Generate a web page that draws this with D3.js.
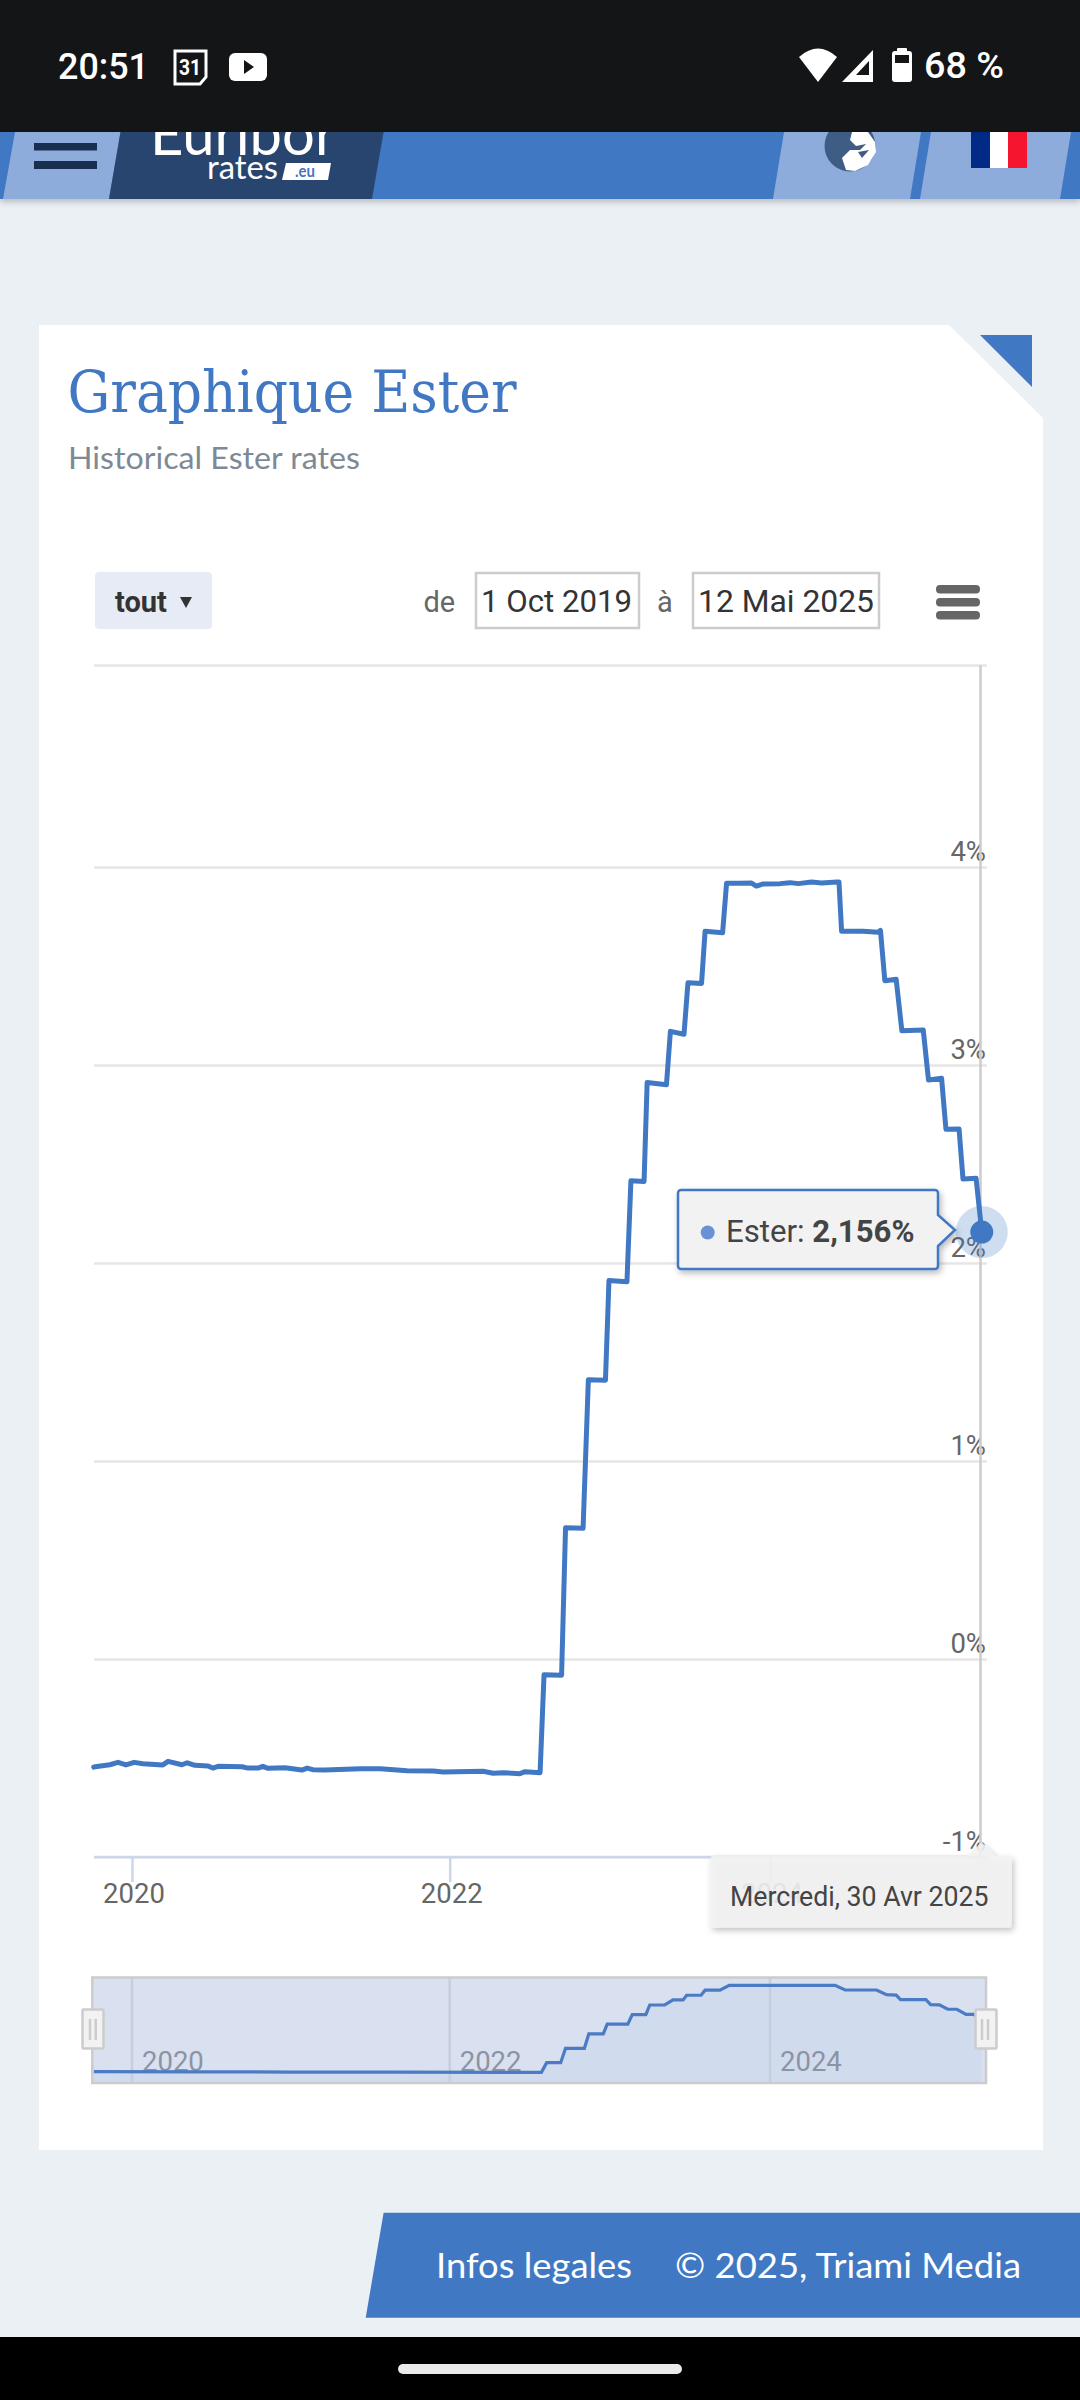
<!DOCTYPE html>
<html lang="fr">
<head>
<meta charset="utf-8">
<title>Graphique Ester</title>
<script src="https://cdn.jsdelivr.net/npm/d3@7"></script>
<style>
html,body{margin:0;padding:0;background:#ebf0f5;}
svg{display:block;}
text{font-family:Roboto,sans-serif;}
</style>
</head>
<body>
<svg id="c" width="1080" height="2400" viewBox="0 0 1080 2400"></svg>
<script>
const rateDates = ["2019-10-05","2019-10-08","2019-11-11","2019-11-30","2019-12-18","2020-01-06","2020-01-26","2020-03-12","2020-03-24","2020-04-25","2020-05-07","2020-05-25","2020-06-24","2020-07-05","2020-07-17","2020-09-10","2020-09-24","2020-10-17","2020-10-28","2020-11-09","2020-12-18","2021-01-26","2021-02-07","2021-02-20","2021-03-20","2021-06-09","2021-07-25","2021-09-25","2021-11-24","2021-12-17","2022-03-18","2022-04-10","2022-05-02","2022-06-10","2022-06-22","2022-07-26","2022-08-04","2022-09-13","2022-09-22","2022-11-01","2022-11-13","2022-12-22","2022-12-30","2023-02-09","2023-02-18","2023-03-20","2023-03-27","2023-05-10","2023-05-19","2023-06-19","2023-06-28","2023-07-29","2023-08-06","2023-09-15","2023-09-24","2023-10-24","2023-11-20","2023-12-01","2023-12-15","2024-01-24","2024-02-16","2024-03-06","2024-04-05","2024-04-28","2024-06-03","2024-06-07","2024-06-13","2024-08-01","2024-09-05","2024-09-10","2024-09-20","2024-10-16","2024-10-29","2024-12-17","2024-12-29","2025-01-28","2025-02-07","2025-03-09","2025-03-18","2025-04-17","2025-04-30"];
const rateValues = [-0.546,-0.544,-0.534,-0.522,-0.535,-0.522,-0.529,-0.535,-0.517,-0.534,-0.524,-0.537,-0.540,-0.551,-0.542,-0.544,-0.551,-0.551,-0.542,-0.552,-0.549,-0.561,-0.551,-0.559,-0.561,-0.554,-0.554,-0.564,-0.566,-0.571,-0.567,-0.577,-0.574,-0.579,-0.569,-0.574,-0.079,-0.082,0.663,0.660,1.410,1.408,1.912,1.905,2.415,2.412,2.912,2.900,3.170,3.155,3.415,3.412,3.675,3.668,3.918,3.918,3.919,3.904,3.914,3.916,3.921,3.916,3.924,3.919,3.924,3.924,3.675,3.676,3.670,3.680,3.426,3.433,3.173,3.177,2.924,2.933,2.675,2.677,2.424,2.428,2.156];

const navDates = ["2019-10-05","2020-06-01","2021-01-01","2021-09-01","2022-07-29","2022-08-10","2022-09-11","2022-09-22","2022-11-04","2022-11-14","2022-12-17","2022-12-26","2023-02-11","2023-02-21","2023-03-24","2023-04-02","2023-05-06","2023-05-25","2023-06-17","2023-06-25","2023-07-28","2023-08-06","2023-09-09","2023-09-30","2024-05-29","2024-06-21","2024-09-01","2024-09-24","2024-10-16","2024-10-26","2024-12-23","2025-01-03","2025-01-23","2025-02-11","2025-03-04","2025-03-25","2025-04-11","2025-04-30"];
const navValues = [-0.54,-0.55,-0.56,-0.565,-0.575,-0.077,-0.077,0.66,0.66,1.40,1.40,1.90,1.90,2.39,2.39,2.89,2.89,3.15,3.15,3.39,3.39,3.65,3.65,3.90,3.90,3.66,3.66,3.42,3.40,3.165,3.165,2.91,2.90,2.67,2.67,2.41,2.41,2.156];

const yTicks = [-1,0,1,2,3,4];
const xTickDates = ["2020-01-01","2022-01-01","2024-01-01"];
const xDomainDates = ["2019-10-01","2020-01-01","2022-01-01","2024-01-01","2025-05-12"];
const pageTitle = "Graphique Ester";
const pageSubtitle = "Historical Ester rates";
const tooltipDate = "Mercredi, 30 Avr 2025";
const tooltipName = "Ester: ";
const tooltipValue = "2,156%";
const fromDate = "1 Oct 2019";
const toDate = "12 Mai 2025";

const BLUE = "#4178c4";
const parse = d3.utcParse("%Y-%m-%d");
const svg = d3.select("#c");

/* scales */
const x = d3.scaleUtc().domain(xDomainDates.map(parse)).range([92,132,449.7,770,987]);
const y = d3.scaleLinear().domain([-1,4]).range([1857,867]);
const yNav = d3.scaleLinear().domain([-1,4]).range([2080.6,1983.4]);
const plotTop = 665.5;

const defs = svg.append("defs");
const sh = defs.append("filter").attr("id","shadow").attr("x","-10%").attr("y","-20%").attr("width","125%").attr("height","150%");
sh.append("feDropShadow").attr("dx",2).attr("dy",3).attr("stdDeviation",3).attr("flood-color","#000").attr("flood-opacity",0.28);
const sh2 = defs.append("filter").attr("id","hshadow").attr("x","-2%").attr("y","-20%").attr("width","104%").attr("height","150%");
sh2.append("feDropShadow").attr("dx",0).attr("dy",3).attr("stdDeviation",3).attr("flood-color","#000").attr("flood-opacity",0.22);
defs.append("clipPath").attr("id","hdr").append("rect").attr("x",0).attr("y",132).attr("width",1080).attr("height",67);

const poly = (g,pts,fill)=>g.append("polygon").attr("points",pts.map(p=>p.join(",")).join(" ")).attr("fill",fill);
const txt = (g,xx,yy,s,size,fill,extra={})=>{const t=g.append("text").attr("x",xx).attr("y",yy).attr("font-size",size).attr("fill",fill).text(s);Object.entries(extra).forEach(([k,v])=>t.attr(k,v));return t;};
const fit = {lengthAdjust:"spacingAndGlyphs"};

/* card */
const card = svg.append("g");
poly(card,[[39,325],[949,325],[1043,418],[1043,2150],[39,2150]],"#fff");
poly(card,[[980,335],[1032,335],[1032,387]],BLUE);
txt(card,67.5,412,pageTitle,58,BLUE,{...fit,style:"font-family:'DejaVu Serif',serif;font-stretch:condensed",textLength:449});
txt(card,68,469,pageSubtitle,30,"#7d8a96",{...fit,style:"font-family:Lato,sans-serif",textLength:292});

/* range controls */
const ctl = svg.append("g");
ctl.append("rect").attr("x",95).attr("y",572).attr("width",117).attr("height",57).attr("rx",4).attr("fill","#e6ebf5");
txt(ctl,115,612,"tout",29,"#333",{"font-weight":700});
poly(ctl,[[180,597],[192,597],[186,608]],"#333");
txt(ctl,423.5,612,"de",29,"#666");
ctl.append("rect").attr("x",476).attr("y",573).attr("width",163).attr("height",55).attr("fill","#fff").attr("stroke","#ccc").attr("stroke-width",2.5);
txt(ctl,481,612,fromDate,31,"#333",{...fit,textLength:151});
txt(ctl,657,612,"à",29,"#666");
ctl.append("rect").attr("x",693).attr("y",573).attr("width",186).attr("height",55).attr("fill","#fff").attr("stroke","#ccc").attr("stroke-width",2.5);
txt(ctl,698,612,toDate,31,"#333",{...fit,textLength:176});
[585,598,611].forEach(v=>ctl.append("rect").attr("x",936).attr("y",v).attr("width",44).attr("height",8.5).attr("rx",4).attr("fill","#666"));

/* y axis with grid */
const yAxis = d3.axisLeft(y).tickValues(yTicks).tickSize(893).tickFormat(d=>d+"%");
const gy = svg.append("g").attr("transform","translate(987,0)").call(yAxis);
gy.select(".domain").remove();
gy.selectAll(".tick line").attr("stroke","#e6e6e6").attr("stroke-width",2.5);
gy.selectAll(".tick text").attr("x",-1).attr("dy",0).attr("y",-7).attr("text-anchor","end")
  .attr("font-size",27.5).attr("fill","#666").style("font-family","Roboto,sans-serif");
svg.append("line").attr("x1",94).attr("x2",987).attr("y1",plotTop).attr("y2",plotTop).attr("stroke","#e6e6e6").attr("stroke-width",2.5);

/* crosshair */
svg.append("line").attr("x1",980.5).attr("x2",980.5).attr("y1",plotTop).attr("y2",1857).attr("stroke","#ccc").attr("stroke-width",2.5);

/* x axis */
const xAxis = d3.axisBottom(x).tickValues(xTickDates.map(parse)).tickSize(25).tickFormat(d3.utcFormat("%Y"));
const gx = svg.append("g").attr("transform","translate(0,1857)").call(xAxis);
gx.select(".domain").remove();
gx.append("line").attr("x1",94).attr("x2",987).attr("stroke","#ccd6eb").attr("stroke-width",2.5);
gx.selectAll(".tick line").attr("stroke","#ccd6eb").attr("stroke-width",2.5);
gx.selectAll(".tick text").attr("x",1.5).attr("y",46).attr("dy",0).attr("text-anchor","middle")
  .attr("font-size",27.5).attr("fill","#666").style("font-family","Roboto,sans-serif");

/* series */
const series = rateDates.map((d,i)=>({d:parse(d),v:rateValues[i]}));
const line = d3.line().x(p=>x(p.d)).y(p=>y(p.v));
svg.append("path").datum(series).attr("d",line).attr("fill","none").attr("stroke",BLUE).attr("stroke-width",5).attr("stroke-linejoin","round").attr("stroke-linecap","round");

/* marker */
const last = series[series.length-1];
const mk = svg.append("g");
mk.append("circle").attr("cx",x(last.d)).attr("cy",y(last.v)).attr("r",26).attr("fill",BLUE).attr("fill-opacity",0.25);

/* navigator */
const nav = svg.append("g");
const navSeries = navDates.map((d,i)=>({d:parse(d),v:navValues[i]}));
const navTop = 1977.5, navBot = 2083;
nav.append("rect").attr("x",92.3).attr("y",navTop).attr("width",893.7).attr("height",navBot-navTop).attr("fill","#fff");
const navLine = d3.line().x(p=>x(p.d)).y(p=>yNav(p.v));
const navArea = d3.area().x(p=>x(p.d)).y0(navBot).y1(p=>yNav(p.v));
nav.append("path").datum(navSeries).attr("d",navArea).attr("fill",BLUE).attr("fill-opacity",0.05);
xTickDates.map(parse).forEach(d=>{
  nav.append("line").attr("x1",x(d)).attr("x2",x(d)).attr("y1",navTop).attr("y2",navBot).attr("stroke","#e6e6e6").attr("stroke-width",2.5);
  txt(nav,x(d)+10,2071,d3.utcFormat("%Y")(d),27.5,"#999");
});
nav.append("path").datum(navSeries).attr("d",navLine).attr("fill","none").attr("stroke",BLUE).attr("stroke-width",3.2);
nav.append("rect").attr("x",92.3).attr("y",navTop).attr("width",893.7).attr("height",navBot-navTop).attr("fill","#6685c2").attr("fill-opacity",0.25);
nav.append("rect").attr("x",92.3).attr("y",navTop).attr("width",893.7).attr("height",navBot-navTop).attr("fill","none").attr("stroke","#ccc").attr("stroke-width",2.5);
[[82.5,90,95.7],[975.5,982,988]].forEach(([hx,a,b])=>{
  nav.append("rect").attr("x",hx).attr("y",2009.5).attr("width",21).attr("height",39).attr("rx",1).attr("fill","#f2f2f2").attr("stroke","#ccc").attr("stroke-width",2.5);
  [a,b].forEach(v=>nav.append("line").attr("x1",v).attr("x2",v).attr("y1",2019).attr("y2",2040).attr("stroke","#ccc").attr("stroke-width",2.5));
});

/* value tooltip */
const tip = svg.append("g");
tip.append("path").attr("d","M681,1190H935a3,3 0 0 1 3,3V1215L955,1230L938,1246V1266a3,3 0 0 1 -3,3H681a3,3 0 0 1 -3,-3V1193a3,3 0 0 1 3,-3Z")
  .attr("fill","#f3f3f3").attr("fill-opacity",0.97).attr("stroke",BLUE).attr("stroke-width",2.5).attr("filter","url(#shadow)");
tip.append("circle").attr("cx",707.7).attr("cy",1232.5).attr("r",7).attr("fill","#6a91d4");
const tipT = txt(tip,726,1241.5,tooltipName,30.5,"#444",{...fit,textLength:188.5});
tipT.append("tspan").attr("font-weight",700).text(tooltipValue);
mk.raise();
mk.append("circle").attr("cx",x(last.d)).attr("cy",y(last.v)).attr("r",11.5).attr("fill",BLUE);

/* date tooltip */
const dt = svg.append("g");
dt.append("path").attr("d","M713,1856H968L981.5,1842L995,1856H1009a2.5,2.5 0 0 1 2.5,2.5V1925a2.5,2.5 0 0 1 -2.5,2.5H713a2.5,2.5 0 0 1 -2.5,-2.5V1858.5a2.5,2.5 0 0 1 2.5,-2.5Z")
  .attr("fill","#f3f3f3").attr("fill-opacity",0.88).attr("filter","url(#shadow)");
txt(dt,730,1905.5,tooltipDate,28,"#444",{...fit,textLength:258.5});

/* header band */
const hdr = svg.append("g");
hdr.append("rect").attr("x",0).attr("y",132).attr("width",1080).attr("height",67).attr("fill",BLUE).attr("filter","url(#hshadow)");
poly(hdr,[[15,132],[120.5,132],[109,199],[3,199]],"#8dabdb");
poly(hdr,[[120.5,132],[383.6,132],[372,199],[109,199]],"#284570");
poly(hdr,[[784,132],[921,132],[910,199],[773,199]],"#8dabdb");
poly(hdr,[[931,132],[1071,132],[1060,199],[920,199]],"#8dabdb");
[143,161].forEach(v=>hdr.append("rect").attr("x",34).attr("y",v).attr("width",63).attr("height",v===143?7.5:8).attr("fill","#1a2f50"));
const clipH = hdr.append("g").attr("clip-path","url(#hdr)");
txt(clipH,150,155,"Euribor",60,"#fff",{...fit,style:"font-family:Lato,sans-serif",textLength:186});
txt(clipH,207,179,"rates",33,"#fff",{...fit,style:"font-family:Lato,sans-serif",textLength:71});
poly(clipH,[[286,163],[331,163],[328,180],[282,180]],"#fff");
txt(clipH,295,177,".eu",17,BLUE,{...fit,style:"font-family:Lato,sans-serif","font-weight":700,textLength:20});
clipH.append("circle").attr("cx",850).attr("cy",146).attr("r",25.5).attr("fill","#3f5c85");
clipH.append("path").attr("d","M852,132 L868,132 L875,142 L876,152 L868,165 L855,171 L846,170 L842,158 L850,150 L860,150 L866,144 L856,146 L850,140Z").attr("fill","#fff");
clipH.append("path").attr("d","M858,152 L869,150 L862,158Z").attr("fill","#3f5c85");
clipH.append("rect").attr("x",971).attr("y",132).attr("width",19).attr("height",36).attr("fill","#002a85");
clipH.append("rect").attr("x",990).attr("y",132).attr("width",18).attr("height",36).attr("fill","#fff");
clipH.append("rect").attr("x",1008).attr("y",132).attr("width",19).attr("height",36).attr("fill","#f5152f");

/* status bar */
const st = svg.append("g");
st.append("rect").attr("x",0).attr("y",0).attr("width",1080).attr("height",132).attr("fill","#141517");
txt(st,58,79,"20:51",37,"#fff",{...fit,"font-weight":500,textLength:91});
st.append("path").attr("d","M175,51H206V77L200,84H175Z").attr("fill","none").attr("stroke","#fff").attr("stroke-width",3);
txt(st,179,75,"31",22,"#fff",{...fit,"font-weight":700,textLength:22});
st.append("rect").attr("x",229).attr("y",53).attr("width",38).attr("height",28).attr("rx",6).attr("fill","#fff");
poly(st,[[244,60],[254,67],[244,74]],"#141517");
st.append("path").attr("d","M799,57 Q818,40 837,57 L818,82Z").attr("fill","#fff");
poly(st,[[873,50],[873,82],[842,82]],"#fff");
poly(st,[[869,61],[869,75],[856,75]],"#141517");
st.append("rect").attr("x",897).attr("y",48).attr("width",10).attr("height",6).attr("rx",1).attr("fill","#fff");
st.append("rect").attr("x",892).attr("y",51).attr("width",20).attr("height",31).attr("rx",3).attr("fill","#fff");
st.append("rect").attr("x",895).attr("y",55).attr("width",14).attr("height",8).attr("fill","#141517");
txt(st,924,78,"68 %",37,"#fff",{...fit,"font-weight":500,textLength:80});

/* footer */
const ft = svg.append("g");
poly(ft,[[383.6,2212.7],[1080,2212.7],[1080,2317.7],[365.7,2317.7]],BLUE);
txt(ft,436,2278,"Infos legales",34,"#fff",{...fit,style:"font-family:Lato,sans-serif",textLength:196});
txt(ft,675,2278,"© 2025, Triami Media",34,"#fff",{...fit,style:"font-family:Lato,sans-serif",textLength:346});

/* nav bar */
const nb = svg.append("g");
nb.append("rect").attr("x",0).attr("y",2337).attr("width",1080).attr("height",63).attr("fill","#000");
nb.append("rect").attr("x",398).attr("y",2364).attr("width",284).attr("height",10).attr("rx",5).attr("fill","#e9e9e9");
</script>
</body>
</html>
